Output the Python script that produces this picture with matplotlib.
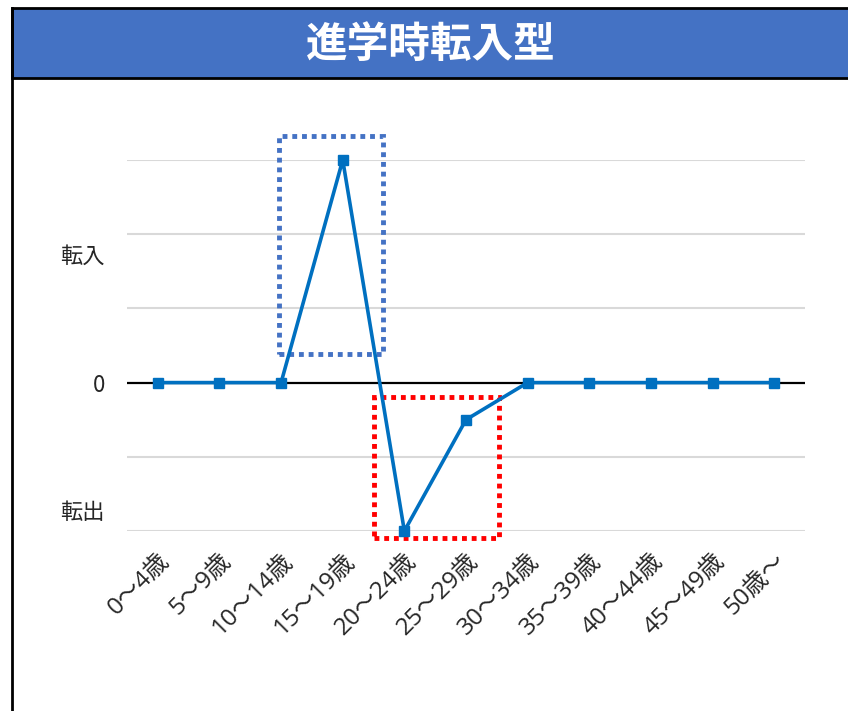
import matplotlib.pyplot as plt
from matplotlib.patches import Rectangle
from matplotlib.lines import Line2D

plt.rcParams['font.family'] = ['Noto Sans CJK JP', 'DejaVu Sans']

# data
age_groups = ["0～4歳", "5～9歳", "10～14歳", "15～19歳", "20～24歳", "25～29歳",
              "30～34歳", "35～39歳", "40～44歳", "45～49歳", "50歳～"]
values = [0, 0, 0, 3, -2, -0.5, 0, 0, 0, 0, 0]
grid_levels = [-2, -1, 1, 2, 3]
y_label_pos = [1.73, 0, -1.72]
y_label_text = ["転入", "0", "転出"]
title = "進学時転入型"

W, H = 848, 711
fig = plt.figure(figsize=(W / 100, H / 100), dpi=100)
fig.patch.set_facecolor("white")

# plot area in pixels: x 127..805, y 160..531
ax = fig.add_axes([127 / W, 1 - 531 / H, (805 - 127) / W, (531 - 160) / H])
x = list(range(len(age_groups)))

for g in grid_levels:
    ax.axhline(g, color="#D9D9D9", lw=1.5, zorder=1)
ax.axhline(0, color="black", lw=1.6, zorder=2)

ax.plot(x, values, color="#0070C0", lw=2.6, marker="s", markersize=6.5,
        zorder=4, clip_on=False)

ax.set_xlim(-0.5, len(age_groups) - 0.5)
ax.set_ylim(-2, 3)
for s in ax.spines.values():
    s.set_visible(False)

ax.set_xticks(x)
ax.set_xticklabels(age_groups, rotation=45, ha="right", va="top",
                   rotation_mode="anchor", fontsize=17.5, color="#262626",
                   family=["Open Sans", "Noto Sans CJK JP"])
ax.set_yticks(y_label_pos)
ax.set_yticklabels(y_label_text, fontsize=16, color="#262626")
ax.tick_params(length=0)
ax.tick_params(axis="y", pad=16)
ax.tick_params(axis="x", pad=13)

# dotted highlight boxes
ax.add_patch(Rectangle((1.97, 0.39), 3.66 - 1.97, 3.32 - 0.39, fill=False,
                       edgecolor="#4472C4", lw=3.5, linestyle=(0, (1, 1)),
                       clip_on=False, zorder=3))
ax.add_patch(Rectangle((3.51, -2.09), 5.54 - 3.51, -0.19 + 2.09, fill=False,
                       edgecolor="#FF0000", lw=3.5, linestyle=(0, (1, 1)),
                       clip_on=False, zorder=3))

# title banner and frame
fig.add_artist(Rectangle((12 / W, 1 - 78 / H), 1, 70 / H, transform=fig.transFigure,
                         facecolor="#4472C4", edgecolor="black", lw=2))
fig.add_artist(Line2D([12 / W, 12 / W], [0, 1 - 8 / H], transform=fig.transFigure,
                      color="black", lw=2))
fig.text(431 / W, 1 - 45 / H, title, ha="center", va="center", fontsize=30,
         fontweight="bold", color="white")

fig.savefig("out.png", dpi=100)
